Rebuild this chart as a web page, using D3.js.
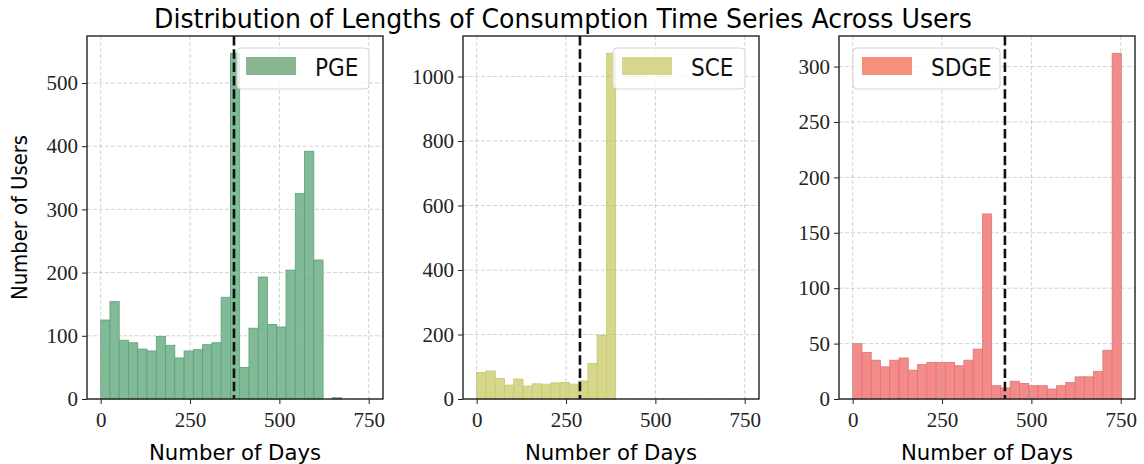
<!DOCTYPE html>
<html>
<head>
<meta charset="utf-8">
<script src="https://cdn.jsdelivr.net/npm/d3@7/dist/d3.min.js"></script>
<style>
  body { margin: 0; background: #fff; }
  .tick text { font-family: "Liberation Serif", "DejaVu Serif", serif; }
</style>
</head>
<body>
<svg class="chart" width="1144" height="464"></svg>
<script>
// histogram counts, one entry per bin of binWidth days starting at day 0
const companies = ["PGE", "SCE", "SDGE"];
const binWidth = 25.93;
const pgeCounts = [125, 154, 93, 89, 79, 76, 99, 85, 65, 76, 78, 86, 89, 161, 547, 50, 112, 193, 118, 114, 204, 325, 392, 220, 0, 2];
const sceCounts = [82, 87, 64, 43, 62, 40, 47, 46, 50, 51, 46, 56, 110, 198, 1072];
const sdgeCounts = [50, 42, 35, 29, 35, 37, 26, 31, 33, 33, 33, 30, 35, 45, 167, 12, 10, 16, 14, 12, 12, 9, 12, 15, 20, 20, 25, 44, 312];
const medianDays = [373, 289, 426];
const xTicks = [0, 250, 500, 750];
const yTicksPGE = [0, 100, 200, 300, 400, 500];
const yTicksSCE = [0, 200, 400, 600, 800, 1000];
const yTicksSDGE = [0, 50, 100, 150, 200, 250, 300];

const counts = [pgeCounts, sceCounts, sdgeCounts];
const yTicks = [yTicksPGE, yTicksSCE, yTicksSDGE];
const barFill = ["#80ba96", "#d7d78c", "#f38b8b"];
const barEdge = ["#5aa277", "#c6c673", "#e27272"];
const legendFill = ["#89b68f", "#d6d68d", "#f5917a"];

const svg = d3.select(".chart");
const plotTop = 36, plotBottom = 399;
const panels = [
    {left: 87, right: 383, legend: "right", lw: 132},
    {left: 463, right: 759, legend: "right", lw: 132},
    {left: 839, right: 1135, legend: "left", lw: 147}
];

svg.append("text")
    .attr("x", 563).attr("y", 28)
    .attr("text-anchor", "middle")
    .attr("textLength", 818).attr("lengthAdjust", "spacingAndGlyphs")
    .style("font-family", "'DejaVu Sans', sans-serif")
    .style("font-stretch", "condensed")
    .style("font-size", "26px")
    .text("Distribution of Lengths of Consumption Time Series Across Users");

svg.append("text")
    .attr("transform", `translate(27,${(plotTop + plotBottom) / 2}) rotate(-90)`)
    .attr("text-anchor", "middle")
    .attr("textLength", 165).attr("lengthAdjust", "spacingAndGlyphs")
    .style("font-family", "'DejaVu Sans', sans-serif")
    .style("font-stretch", "condensed")
    .style("font-size", "22px")
    .text("Number of Users");

panels.forEach((p, i) => {
    const data = counts[i];
    const x = d3.scaleLinear().domain([-38.3, 790]).range([p.left, p.right]);
    const y = d3.scaleLinear().domain([0, d3.max(data) * 1.05]).range([plotBottom, plotTop]);
    const g = svg.append("g");

    g.append("g")
        .selectAll("rect")
        .data(data)
        .enter().append("rect")
        .attr("x", (d, j) => x(j * binWidth))
        .attr("width", (d, j) => x((j + 1) * binWidth) - x(j * binWidth))
        .attr("y", (d) => y(d))
        .attr("height", (d) => plotBottom - y(d))
        .style("fill", barFill[i])
        .style("stroke", (d) => d > 0 ? barEdge[i] : "none")
        .style("stroke-width", 0.8);

    // grid
    g.append("g").selectAll("line")
        .data(xTicks)
        .enter().append("line")
        .attr("x1", (d) => x(d)).attr("x2", (d) => x(d))
        .attr("y1", plotTop).attr("y2", plotBottom)
        .style("stroke", "#b0b0b0").style("stroke-opacity", 0.7)
        .style("stroke-width", 0.8).style("stroke-dasharray", "4,2");
    g.append("g").selectAll("line")
        .data(yTicks[i])
        .enter().append("line")
        .attr("x1", p.left).attr("x2", p.right)
        .attr("y1", (d) => y(d)).attr("y2", (d) => y(d))
        .style("stroke", "#b0b0b0").style("stroke-opacity", 0.7)
        .style("stroke-width", 0.8).style("stroke-dasharray", "4,2");

    // median line
    g.append("line")
        .attr("x1", x(medianDays[i])).attr("x2", x(medianDays[i]))
        .attr("y1", plotTop).attr("y2", plotBottom)
        .style("stroke", "#111").style("stroke-width", 2.6)
        .style("stroke-dasharray", "9.5,3.8");

    // axes
    const xAxis = g.append("g")
        .attr("transform", `translate(0,${plotBottom})`)
        .call(d3.axisBottom(x).tickValues(xTicks).tickSize(5).tickPadding(8).tickFormat(d3.format("d")));
    const yAxis = g.append("g")
        .attr("transform", `translate(${p.left},0)`)
        .call(d3.axisLeft(y).tickValues(yTicks[i]).tickSize(5).tickPadding(4).tickFormat(d3.format("d")));
    [xAxis, yAxis].forEach((a) => {
        a.select(".domain").remove();
        a.selectAll(".tick line").style("stroke", "#222").style("stroke-width", 1);
        a.selectAll(".tick text").style("font-size", "21px").style("fill", "#222");
    });

    g.append("rect")
        .attr("x", p.left).attr("y", plotTop)
        .attr("width", p.right - p.left).attr("height", plotBottom - plotTop)
        .style("fill", "none").style("stroke", "#222").style("stroke-width", 1.4);

    g.append("text")
        .attr("x", (p.left + p.right) / 2).attr("y", 460)
        .attr("text-anchor", "middle")
        .attr("textLength", 172).attr("lengthAdjust", "spacingAndGlyphs")
        .style("font-family", "'DejaVu Sans', sans-serif")
        .style("font-stretch", "condensed")
        .style("font-size", "22px")
        .text("Number of Days");

    // legend
    const lx = p.legend === "right" ? p.right - 14 - p.lw : p.left + 14;
    const leg = g.append("g").attr("transform", `translate(${lx},${plotTop + 12})`);
    leg.append("rect")
        .attr("width", p.lw).attr("height", 41).attr("rx", 4)
        .style("fill", "#fff").style("fill-opacity", 0.8)
        .style("stroke", "#d5d5d5").style("stroke-width", 1);
    leg.append("rect")
        .attr("x", 9).attr("y", 9).attr("width", 50).attr("height", 18)
        .style("fill", legendFill[i]);
    leg.append("text")
        .attr("x", 78).attr("y", 28)
        .style("font-family", "'DejaVu Sans', sans-serif")
        .style("font-stretch", "condensed")
        .style("font-size", "24px")
        .style("fill", "#111")
        .text(companies[i]);
});
</script>
</body>
</html>
